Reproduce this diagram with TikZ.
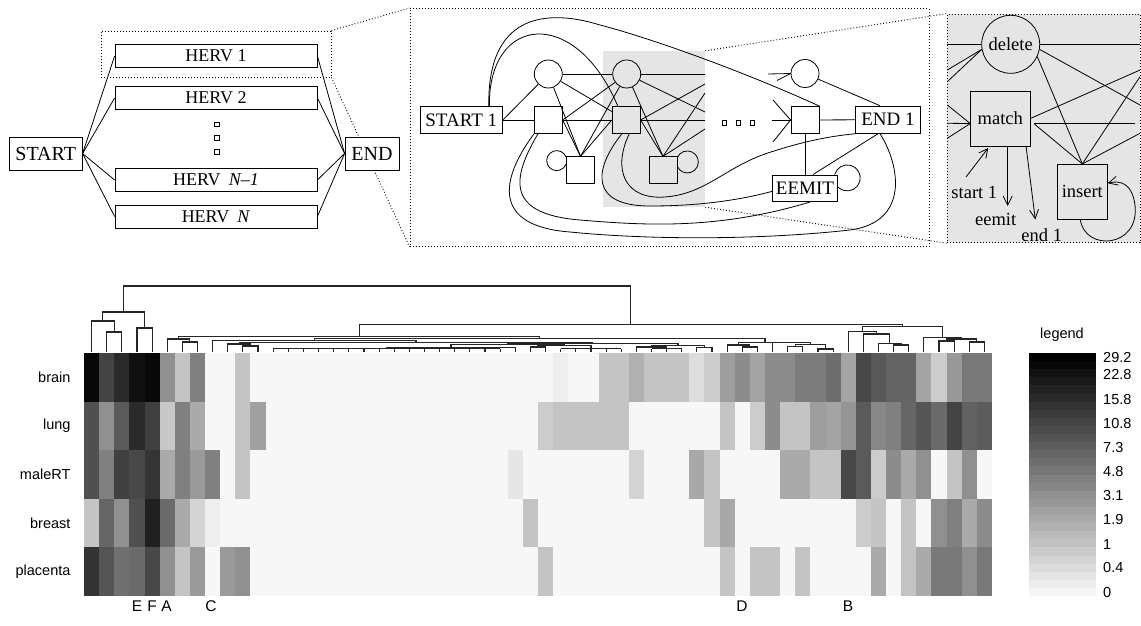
\documentclass[tikz,border=0pt]{standalone}
\usepackage{fontspec}
\setmainfont{Liberation Serif}
\newfontfamily\hsans{Liberation Sans}
\usetikzlibrary{calc,arrows.meta}

\definecolor{shade}{RGB}{229,229,229}

% dendrogram helpers: join two children at height #3, name the new node #4
\newcommand\dmerge[4]{%
  \draw[dendro] (#1) |- (#2 |- 0,#3) -- (#2);
  \path (#1 |- 0,#3) -- (#2 |- 0,#3) coordinate[pos=0.5] (#4);
}
% a flat group of leaves #1..#2 joined at height #3
\newcommand\dcomb[4]{%
  \foreach \k in {#1,...,#2} {\draw[dendro] (L\k) -- (L\k |- 0,#3);}
  \draw[dendro] (L#1 |- 0,#3) -- (L#2 |- 0,#3);
  \path (L#1 |- 0,#3) -- (L#2 |- 0,#3) coordinate[pos=0.5] (#4);
}
% one row of the expression heat map (grey levels 0..255)
\newcommand\heatrow[2]{%
  \foreach \v [count=\c from 0] in {#2} {%
    \definecolor{cellc}{RGB}{\v,\v,\v}%
    \fill[cellc] ({84+15.1333*\c},{353+48.6*#1}) rectangle ({84.4+15.1333*(\c+1)},{353.4+48.6*(#1+1)});
  }%
}

\begin{document}
\begin{tikzpicture}[x=1pt,y=-1pt,
  link/.style={line width=0.8pt},
  dotline/.style={draw, dash pattern=on 0.9pt off 2.1pt, line width=0.9pt},
  lbox/.style={draw, line width=0.8pt, inner sep=0pt, font=\fontsize{18}{21}\selectfont},
  bigbox/.style={draw, line width=0.8pt, inner sep=0pt, font=\fontsize{20}{23}\selectfont},
  hervbox/.style={minimum width=202pt, minimum height=23pt},
  mbox/.style={draw, line width=0.8pt, inner sep=0pt, font=\fontsize{19}{22}\selectfont},
  sq/.style={draw, line width=0.8pt, inner sep=0pt, minimum width=28pt, minimum height=27pt},
  circ/.style={draw, circle, line width=0.8pt, inner sep=0pt, minimum size=28pt},
  pip/.style={draw, line width=0.6pt, inner sep=0pt, minimum size=4.5pt},
  rfont/.style={font=\fontsize{18.5}{21}\selectfont},
  arr/.style={-{Straight Barb[length=9pt,width=9pt]}},
  dendro/.style={line width=1.1pt, black!85},
  hfont/.style={font=\hsans\fontsize{14.5}{17}\selectfont},
]
\useasboundingbox (0,0) rectangle (1141,626);

% ---------- zoom frames ----------
\node[dotline, minimum width=230pt, minimum height=46pt, inner sep=0pt] (zoomA) at (216,54) {};
\node[dotline, minimum width=519pt, minimum height=238pt, inner sep=0pt] (zoomB) at (669.5,127.5) {};
\node[fill=shade, minimum width=102pt, minimum height=156pt, inner sep=0pt] (col) at (654,129) {};
\node[dotline, fill=shade, minimum width=192.7pt, minimum height=228.7pt, inner sep=0pt] (detail) at (1043.7,128.4) {};
\draw[dotline] (zoomA.north east) -- (zoomB.north west);
\draw[dotline] (zoomA.south east) -- (zoomB.south west);
\draw[dotline] (col.north east) -- (detail.north west);
\draw[dotline] (col.south east) -- (detail.south west);

% ---------- model of all HERV families ----------
\node[bigbox, fill=white, minimum width=73pt, minimum height=33pt] (start) at (45.7,153.5) {START};
\node[lbox, hervbox] (h1) at (216,56) {HERV 1};
\node[lbox, hervbox] (h2) at (216,98) {HERV 2};
\node[lbox, hervbox] (hn1) at (216,180) {HERV\hspace{0.45em}\textit{N–1}};
\node[lbox, hervbox] (hn) at (216,216.5) {HERV\hspace{0.45em}\textit{N}};
\node[bigbox, fill=white, minimum width=54pt, minimum height=33pt] (end) at (372,153.5) {END};
\foreach \yy [count=\n] in {124.5,138,152} \node[pip] (vd\n) at (217,\yy) {};
\foreach \h in {h1,h2,hn1,hn} {
  \draw[link] (start.east) -- (\h.west);
  \draw[link] (\h.east) -- (end.west);
}

% ---------- profile model of one family ----------
\node[mbox, minimum width=82.3pt, minimum height=26.7pt] (s1) at (461.3,120) {START 1};
\node[circ] (d1) at (548.3,74) {};
\node[sq] (m1) at (548.3,120) {};
\node[sq] (i1) at (580.5,170.3) {};
\node[circ] (d2) at (626.7,74) {};
\node[sq] (m2) at (626.2,120) {};
\node[sq] (i2) at (663,170.3) {};
\node[circ] (d3) at (805,73.5) {};
\node[sq] (m3) at (805,120) {};
\node[mbox, minimum width=64.3pt, minimum height=27.3pt] (e1) at (888,119.7) {END 1};
\node[mbox, minimum width=64.6pt, minimum height=26.7pt] (ee) at (805,188.3) {EEMIT};
\foreach \xx [count=\n] in {724.3,738.3,752.3} \node[pip] (hd\n) at (\xx,122.7) {};

% entry transitions
\draw[link] (s1.east) -- (m1.west);
\draw[link] (s1.east) -- (d1);
\draw[link] ($(s1.north east)+(-13.5,0)$) .. controls (488,15) and (575,5) .. ($(m2.north west)+(6,0)$);
\draw[link] ($(s1.north east)+(-14,0)$) .. controls (487,15) and (545,8) .. (600,25)
            .. controls (650,38) and (740,70) .. (m3.north east);

% first position
\draw[link] (d1) -- (d2);
\draw[link] (d1) -- (m2);
\draw[link] (d1) -- (i1.north);
\draw[link] (m1.east) -- (d2);
\draw[link] (m1.east) -- (m2.west);
\draw[link] (m1.east) -- (i1.north);
\draw[link] (i1.north) -- (d2);
\draw[link] (i1.north) -- (m2.west);
\draw[link] ($(i1.north west)+(0,0.8)$) arc[start angle=-20, end angle=-340, radius=10];

% second position, leaving towards the elided states
\coordinate (x1) at (705,74);
\coordinate (x2) at (705,112);
\coordinate (x3) at (705,84);
\coordinate (x4) at (705,120);
\coordinate (x5) at (705,93);
\coordinate (x6) at (705,129);
\draw[link] (d2) -- (x1);
\draw[link] (d2) -- (x2);
\draw[link] (d2) -- (i2.north);
\draw[link] (m2.east) -- (x3);
\draw[link] (m2.east) -- (x4);
\draw[link] (m2.east) -- (i2.north);
\draw[link] (i2.north) -- (x5);
\draw[link] (i2.north) -- (x6);
\draw[link] ($(i2.north east)+(0,0.9)$) arc[start angle=-155, end angle=155, radius=11];

% last position
\coordinate (y1) at (768,74);
\coordinate (y2) at (777,80.5);
\coordinate (y3) at (773,100);
\coordinate (y4) at (772,120);
\coordinate (y5) at (773,142);
\draw[link] (y1) -- (d3.west);
\draw[link] (y2) -- (d3.west);
\draw[link] (y3) -- (m3.west);
\draw[link] (y4) -- (m3.west);
\draw[link] (y5) -- (m3.west);
\draw[link] (m3) -- (e1);
\draw[link] (d3) -- (e1.120);
\draw[link] (m3) -- (ee);
\draw[link] ($(ee.north)+(8,0)$) -- ($(e1.south)+(-10,0)$);
\draw[link] ($(ee.north east)+(-3,0)$) arc[start angle=-165, end angle=135, radius=13];

% early exits
\draw[link] (m1.south west) .. controls (500,180) and (492,226) .. (570,232)
            .. controls (650,240) and (760,240) .. (850,230)
            .. controls (910,222) and (900,165) .. ($(e1.south)+(-8,0)$);
\draw[link] ($(m1.south west)+(4,0)$) .. controls (512,178) and (505,214) .. (580,220)
            .. controls (650,226) and (720,229) .. ($(ee.south)+(5,0)$);
\draw[link] ($(m2.south west)+(10,0)$) .. controls (593,170) and (590,206) .. (650,206)
            .. controls (700,206) and (740,200) .. ($(ee.west)+(0,3)$);
\draw[link] ($(m2.south)+(3,0)$) .. controls (612,170) and (625,200) .. (665,197)
            .. controls (705,194) and (725,168) .. (765,154)
            .. controls (800,142) and (830,136) .. (e1.south west);

% ---------- one position in detail ----------
\node[draw, circle, line width=0.8pt, minimum size=58pt, inner sep=0pt, rfont] (del) at (1010.7,44.3) {delete};
\node[draw, line width=0.8pt, minimum width=59.3pt, minimum height=55pt, inner sep=0pt, rfont] (mat) at (1000.3,118.5) {match};
\node[draw, line width=0.8pt, minimum width=50pt, minimum height=55pt, inner sep=0pt, rfont] (ins) at (1082.3,191.8) {insert};
\node[rfont] (lst) at (974.3,192.3) {start 1};
\node[rfont] (lee) at (995.7,219.3) {eemit};
\node[rfont] (lend) at (1041.7,235) {end 1};

\coordinate (u1) at (947.3,44.3);
\coordinate (u2) at (947.3,70);
\coordinate (u3) at (947.3,81.7);
\coordinate (u4) at (947.3,105);
\coordinate (u5) at (947.3,123.3);
\coordinate (u6) at (947.3,138.3);
\draw[link] (u1) -- (del.west);
\draw[link] (u2) -- (del.190);
\draw[link] (u3) -- (del.190);
\draw[link] (u4) -- ($(mat.west)+(0,5)$);
\draw[link] (u5) -- ($(mat.west)+(0,5)$);
\draw[link] (u6) -- ($(mat.west)+(0,5)$);

\coordinate (v1) at (1140,44.3);
\coordinate (v2) at (1140,105);
\coordinate (v3) at (1140,70);
\coordinate (v4) at (1135,123.3);
\coordinate (v5) at (1140,76.7);
\coordinate (v6) at (1140,133.3);
\draw[link] (del.east) -- (v1);
\draw[link] (del.350) -- (v2);
\draw[link] (del.335) -- (ins.north);
\draw[link] (mat.east) -- (v3);
\draw[link] ($(mat.east)+(4,4.8)$) -- (v4);
\draw[link] ($(mat.east)+(4,5.5)$) -- (ins.north);
\draw[link] (ins.north) -- (v5);
\draw[link] (ins.north) -- (v6);

\coordinate (sa) at (966,177);
\coordinate (ea) at (1007.7,206);
\coordinate (na) at (1035.3,219.5);
\draw[link, arr] (sa) -- ($(mat.south)+(-12,1.5)$);
\draw[link, arr] ($(mat.south)+(7.4,0)$) -- (ea);
\draw[link, arr] ($(mat.south east)+(-4.3,0)$) -- (na);
\draw[link, arr] ($(ins.south)+(-2,0)$) .. controls (1085,252) and (1140,248) .. (1135,205)
            .. controls (1132,183) and (1120,180) .. ($(ins.east)+(0,-8.5)$);

% ---------- heat map ----------
\heatrow{0}{8,68,42,16,8,144,196,128,247,247,196,247,
  247,247,247,247,247,247,247,247,247,247,247,247,247,247,247,247,247,247,247,
  238,247,247,196,196,176,196,196,196,221,204,158,140,164,140,140,124,124,110,164,72,88,100,100,164,204,152,120,120}
\heatrow{1}{80,144,90,42,64,200,128,170,247,247,196,160,
  247,247,247,247,247,247,247,247,247,247,247,247,247,247,247,247,247,247,
  204,196,196,196,196,196,247,247,247,247,247,247,196,247,204,140,196,196,158,164,148,90,136,128,102,85,106,68,98,92}
\heatrow{2}{80,128,64,72,53,170,128,154,128,247,196,247,
  247,247,247,247,247,247,247,247,247,247,247,247,247,247,247,247,
  230,247,247,247,247,247,247,247,212,247,247,247,168,196,247,247,247,247,170,170,196,196,72,90,204,140,170,144,247,196,144,247}
\heatrow{3}{196,102,144,80,32,106,170,212,238,247,247,247,
  247,247,247,247,247,247,247,247,247,247,247,247,247,247,247,247,247,
  196,247,247,247,247,247,247,247,247,247,247,247,196,168,
  247,247,247,247,247,247,247,247,204,196,247,196,247,144,128,170,140}
\heatrow{4}{51,85,112,106,72,144,196,154,247,154,144,247,
  247,247,247,247,247,247,247,247,247,247,247,247,247,247,247,247,247,247,
  196,247,247,247,247,247,247,247,247,247,247,247,196,247,196,196,247,196,
  247,247,247,247,170,247,196,170,120,120,144,120}

\foreach \t [count=\r from 0] in {brain,lung,maleRT,breast,placenta}
  \node[hfont, anchor=east] (row\r) at (74,{377.3+48.6*\r}) {\t};

\foreach \t/\xx in {E/137,F/152,A/166.5,C/211,D/742,B/848}
  \node[hfont, font=\hsans\fontsize{15.5}{18}\selectfont] (mark\t) at (\xx,606.5) {\t};

% ---------- colour key ----------
\node[hfont] (keytitle) at (1062,335) {legend};
\foreach \k in {0,...,29} {
  \pgfmathtruncatemacro\g{round(8.45*\k)}
  \definecolor{cellc}{RGB}{\g,\g,\g}
  \fill[cellc] (1029,{353+8.1*\k}) rectangle (1096,{353.4+8.1*(\k+1)});
}
\foreach \t/\yy [count=\n] in {29.2/358,22.8/375,15.8/400,10.8/424,7.3/448,4.8/472,3.1/496,1.9/520,1/545,0.4/568,0/593}
  \node[hfont, anchor=west, inner sep=0pt] (key\n) at (1103,\yy) {\t};

% ---------- dendrogram ----------
\foreach \i in {0,...,59} \coordinate (L\i) at ({91.57+15.1333*\i},352);
\dmerge{L1}{L2}{332}{a12}
\dmerge{L0}{a12}{321}{a012}
\dmerge{L3}{L4}{328}{a34}
\dmerge{a012}{a34}{312}{aA}
\dmerge{L6}{L7}{342}{m67}
\dmerge{L5}{m67}{339}{mA}
\dmerge{L10}{L11}{346}{m1011}
\dmerge{L9}{m1011}{344}{m911}
\dcomb{12}{27}{348.7}{g1}
\dmerge{g1}{L28}{347.3}{g2}
\dmerge{L29}{L30}{347}{g3}
\dcomb{31}{35}{348.5}{g4}
\dmerge{g3}{g4}{345.5}{g5}
\dmerge{g2}{g5}{344.5}{g6}
\dcomb{37}{39}{348.7}{g7a}
\dmerge{L36}{g7a}{347}{g7}
\dmerge{L40}{L41}{347.5}{g8}
\dmerge{g7}{g8}{345.8}{g9}
\dmerge{g6}{g9}{343.5}{g10}
\dmerge{m911}{g10}{342.5}{q}
\dmerge{L8}{q}{340.7}{p}
\dmerge{L43}{L44}{347}{r4344}
\dmerge{L42}{r4344}{345}{r42}
\dmerge{L46}{L47}{346.7}{r4647}
\dmerge{L48}{L49}{349}{r4849}
\dmerge{r4647}{r4849}{344.3}{r4649}
\dmerge{L45}{r4649}{342.7}{r4549}
\dmerge{r42}{r4549}{342.3}{mr}
\dmerge{p}{mr}{338.3}{mB}
\dmerge{mA}{mB}{336.3}{mm}
\dmerge{L53}{L54}{345}{r5354}
\dmerge{L52}{r5354}{343.3}{r5254}
\dmerge{L51}{r5254}{334}{r5154}
\dmerge{L50}{r5154}{331.7}{r5054}
\dmerge{L56}{L57}{341}{r5657}
\dmerge{L58}{L59}{342}{r5859}
\dmerge{r5657}{r5859}{339}{r5659}
\dmerge{L55}{r5659}{337.3}{r5559}
\dmerge{r5054}{r5559}{326.7}{rr}
\dmerge{mm}{rr}{324.3}{bb}
\dmerge{aA}{bb}{286}{root}
\end{tikzpicture}
\end{document}
